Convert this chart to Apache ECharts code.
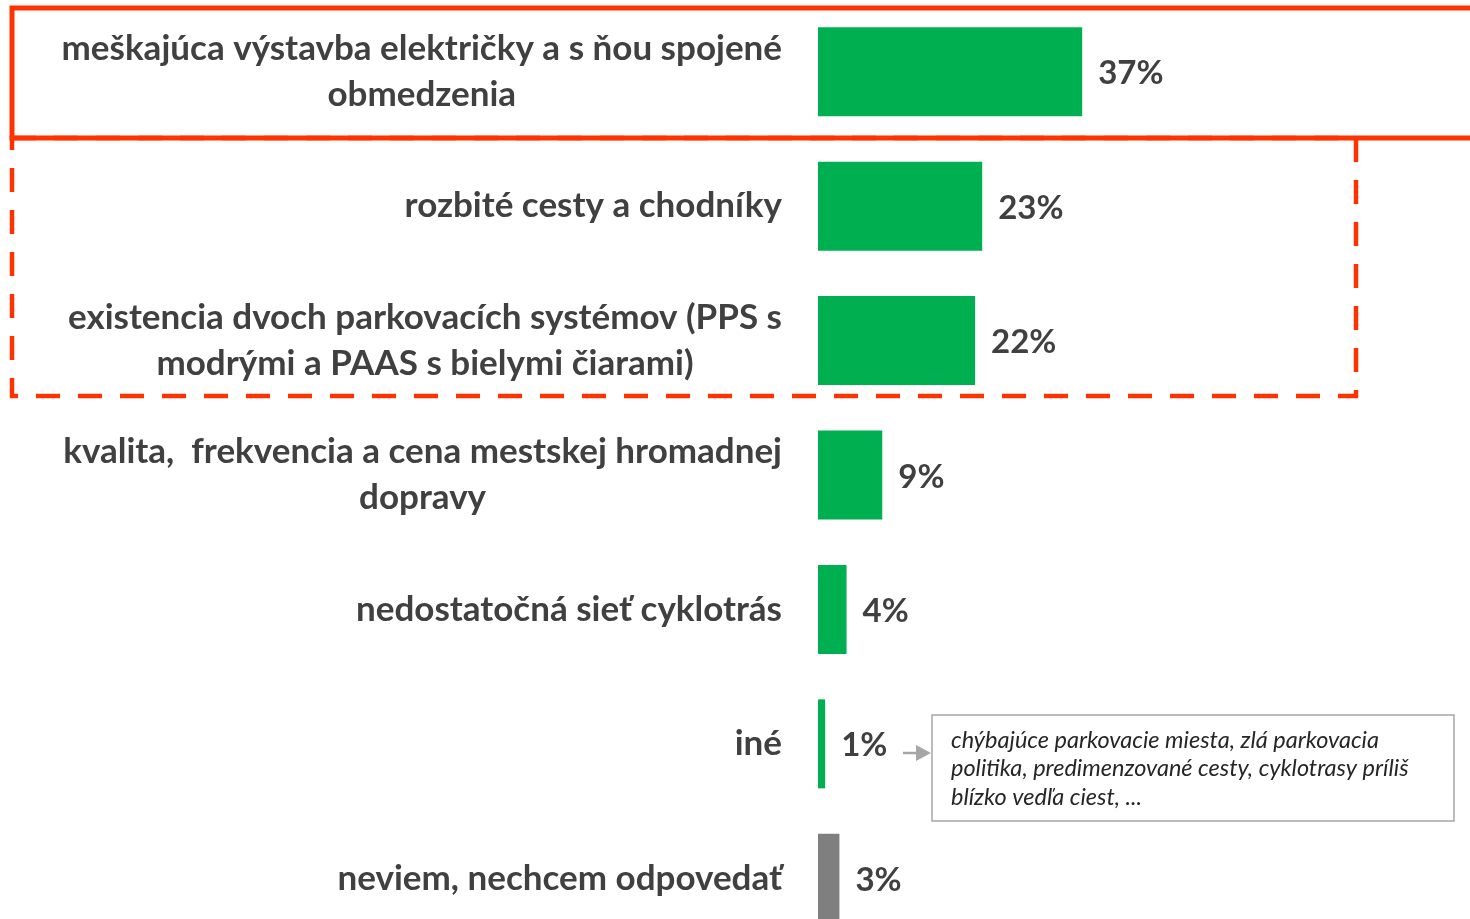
<!DOCTYPE html>
<html>
<head>
<meta charset="utf-8">
<script src="https://cdn.jsdelivr.net/npm/echarts@6/dist/echarts.min.js"></script>
<style>
  html, body { margin: 0; padding: 0; background: #fff; }
  #chart { width: 1470px; height: 919px; }
</style>
</head>
<body>
<div id="chart"></div>
<script>
// kategórie (zhora nadol)
const categories = [
  'meškajúca výstavba električky a s ňou spojené\nobmedzenia',
  'rozbité cesty a chodníky',
  'existencia dvoch parkovacích systémov (PPS s\nmodrými a PAAS s bielymi čiarami)',
  'kvalita,  frekvencia a cena mestskej hromadnej\ndopravy',
  'nedostatočná sieť cyklotrás',
  'iné',
  'neviem, nechcem odpovedať'
];
// podiel odpovedí v %
const values = [37, 23, 22, 9, 4, 1, 3];
// poznámka k "iné"
const noteLines = [
  'chýbajúce parkovacie miesta, zlá parkovacia',
  'politika, predimenzované cesty, cyklotrasy príliš',
  'blízko vedľa ciest, ...'
];

const GREEN = '#00B050';
const GRAY = '#7F7F7F';
const RED = '#FF3300';
const FONT = 'Lato';

const chart = echarts.init(document.getElementById('chart'));

const option = {
  backgroundColor: '#fff',
  animation: false,
  grid: { left: 818, width: 357, top: 4.5, height: 941, containLabel: false, outerBoundsMode: 'none' },
  xAxis: {
    type: 'value', min: 0, max: 50,
    show: false
  },
  yAxis: {
    type: 'category',
    data: categories,
    inverse: true,
    axisLine: { show: false },
    axisTick: { show: false },
    axisLabel: {
      margin: 36,
      align: 'right',
      fontFamily: FONT,
      fontWeight: 'bold',
      fontSize: 35,
      color: '#404040',
      lineHeight: 46,
      formatter: v => v.split('\n').map(s => '{c|' + s + '}').join('\n'),
      rich: {
        c: { align: 'center', fontFamily: FONT, fontWeight: 'bold', fontSize: 35, color: '#404040', lineHeight: 46 }
      }
    }
  },
  series: [{
    type: 'bar',
    data: values,
    barWidth: 89,
    itemStyle: {
      color: p => p.dataIndex === categories.length - 1 ? GRAY : GREEN
    },
    label: {
      show: true,
      position: 'right',
      distance: 16,
      offset: [0, 2],
      formatter: '{c}%',
      fontFamily: FONT,
      fontWeight: 'bold',
      fontSize: 33,
      color: '#404040'
    }
  }],
  graphic: [
    // plný rámček
    { type: 'rect', shape: { x: 12, y: 8, width: 1500, height: 130 },
      style: { fill: 'none', stroke: RED, lineWidth: 5 }, z: 10 },
    // prerušovaný rámček
    { type: 'rect', shape: { x: 12, y: 138, width: 1344, height: 258 },
      style: { fill: 'none', stroke: RED, lineWidth: 4.5, lineDash: [24, 18] }, z: 10 },
    // šípka
    { type: 'line', shape: { x1: 903, y1: 753, x2: 925, y2: 753 },
      style: { stroke: '#A6A6A6', lineWidth: 2.5 }, z: 10 },
    { type: 'polygon', shape: { points: [[916, 745], [931, 753], [916, 761]] },
      style: { fill: '#A6A6A6' }, z: 10 },
    // poznámka
    { type: 'rect', shape: { x: 932, y: 715, width: 522, height: 106 },
      style: { fill: '#fff', stroke: '#A6A6A6', lineWidth: 1.5 }, z: 10 },
    { type: 'text', x: 951, y: 726, z: 11,
      style: { text: noteLines.join('\n'), fontFamily: FONT, fontStyle: 'italic', fontSize: 23.5,
               lineHeight: 28.5, fill: '#262626', textVerticalAlign: 'top' } }
  ]
};

chart.setOption(option);
</script>
</body>
</html>
